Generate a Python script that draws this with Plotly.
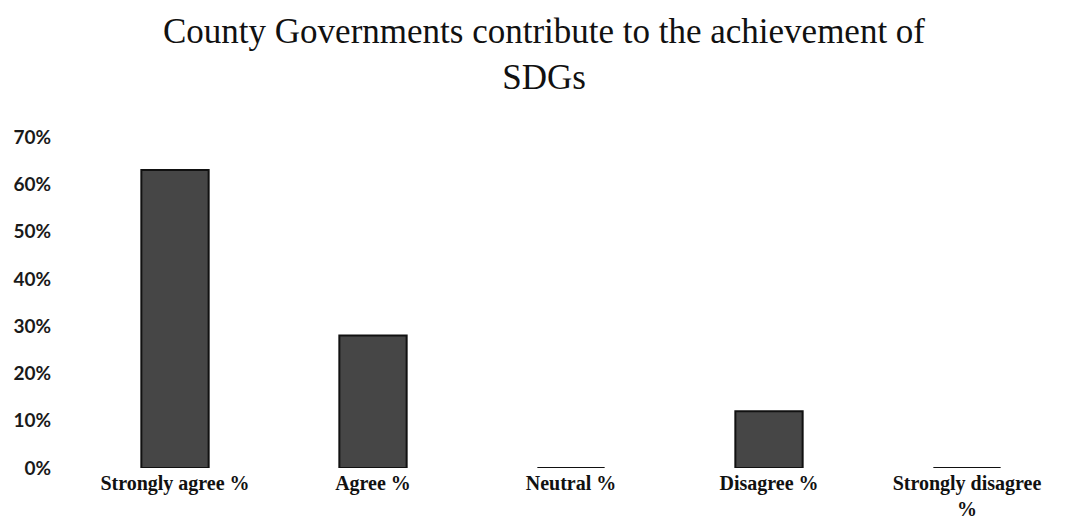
import plotly.graph_objects as go

categories = ["Strongly agree %", "Agree %", "Neutral %", "Disagree %", "Strongly disagree %"]
tick_labels = ["Strongly agree %", "Agree %", "Neutral %", "Disagree %", "Strongly disagree<br>%"]
values = [0.63, 0.28, 0.0, 0.12, 0.0]
y_ticks = [0, 0.1, 0.2, 0.3, 0.4, 0.5, 0.6, 0.7]
y_tick_labels = ["0%", "10%", "20%", "30%", "40%", "50%", "60%", "70%"]
title_text = "County Governments contribute to the achievement of<br>SDGs"

fig = go.Figure(go.Bar(
    x=categories, y=values, width=0.34,
    marker=dict(color="#464646", line=dict(color="#111111", width=2)),
))

fig.update_layout(
    width=1072, height=522,
    paper_bgcolor="white", plot_bgcolor="white",
    margin=dict(l=68, r=14, t=129, b=62),
    showlegend=False,
    annotations=[dict(
        text=title_text, xref="paper", yref="paper",
        x=0.4727, y=1.25, xanchor="center", yanchor="middle",
        showarrow=False, align="center",
        font=dict(family="Liberation Serif", size=35, color="#111111"),
    )],
)
fig.update_xaxes(
    tickmode="array", tickvals=categories, ticktext=tick_labels,
    showline=False, showgrid=False, ticks="", automargin=False,
    tickfont=dict(family="Liberation Serif", size=20, color="#111111", weight="bold"),
    ticklabelstandoff=1,
)
fig.update_yaxes(
    range=[0, 0.7], tickmode="array", tickvals=y_ticks, ticktext=y_tick_labels,
    showline=False, showgrid=False, zeroline=False, ticks="", automargin=False,
    tickfont=dict(family="Lato", size=19, color="#1a1a1a", weight="bold"),
    ticklabelstandoff=24,
)

fig.write_html("out.html")
